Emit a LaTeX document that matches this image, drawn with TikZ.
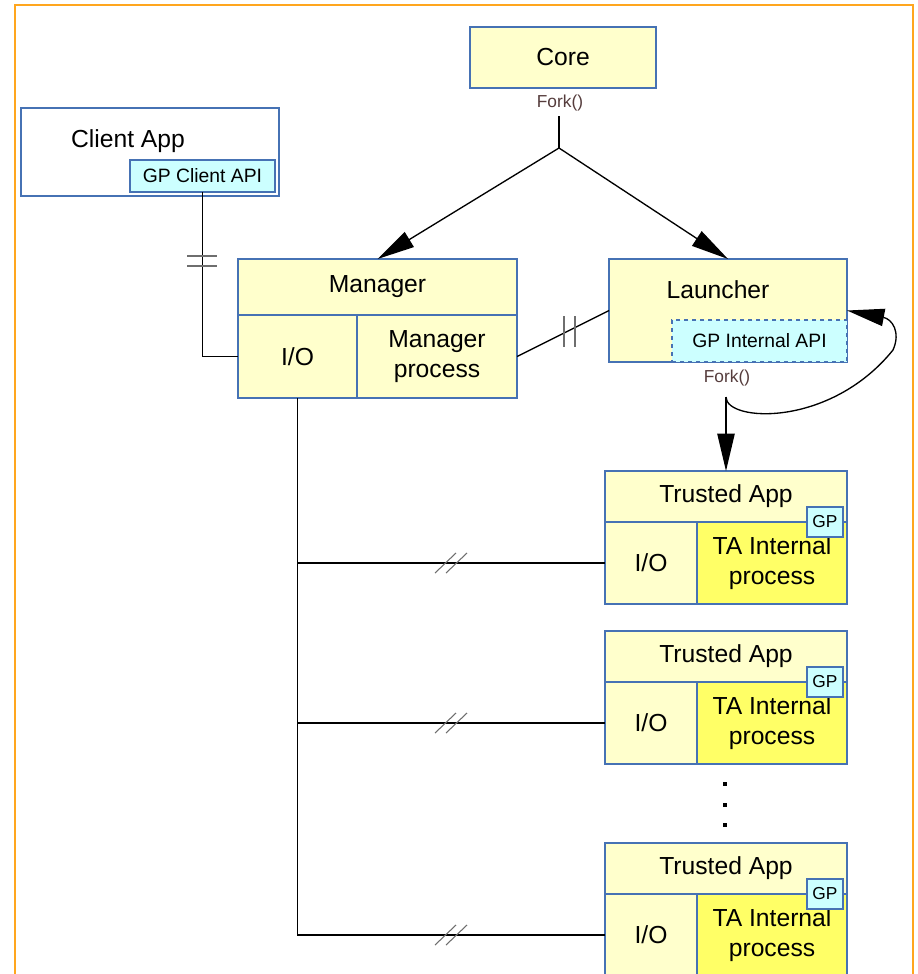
\documentclass[tikz,border=0pt]{standalone}
\usepackage{fontspec}
\setmainfont{Liberation Sans}
\usetikzlibrary{arrows.meta}
\definecolor{bord}{RGB}{70,114,180}
\definecolor{lyel}{RGB}{255,255,204}
\definecolor{yel}{RGB}{255,255,102}
\definecolor{lcyan}{RGB}{204,255,255}
\definecolor{frameor}{RGB}{255,166,30}
\definecolor{forkc}{RGB}{85,60,60}
\definecolor{tickc}{RGB}{110,110,110}
\begin{document}
\begin{tikzpicture}[x=0.75pt,y=-0.75pt,
  wh/.style 2 args={minimum width=#1*0.75pt, minimum height=#2*0.75pt},
  cell/.style={draw=bord, line width=0.9pt, inner sep=0pt, outer sep=0pt, align=center,
    font=\fontsize{18.5}{22}\selectfont},
  ycell/.style={cell, fill=lyel},
  tacell/.style={cell, fill=yel},
  apibox/.style={cell, fill=lcyan, font=\fontsize{14.5}{17}\selectfont},
  gpbox/.style={cell, fill=lcyan, font=\fontsize{13}{15}\selectfont, wh={36}{30}},
  plain/.style={inner sep=0pt, font=\fontsize{18.5}{22}\selectfont},
  forklbl/.style={inner sep=0pt, text=forkc, font=\fontsize{13}{15}\selectfont},
  conn/.style={line width=1pt, black},
  arr/.style={conn, -{Triangle[length=28pt,width=13pt]}},
  tick/.style={line width=0.8pt, tickc},
  dotn/.style={fill=black, inner sep=0pt, minimum size=3.2pt}
]
\useasboundingbox (0,0) rectangle (917,974);
\clip (0,0) rectangle (917,974);
% frame
\draw[frameor, line width=1.9pt] (15,1010) -- (15,5) -- (913,5) -- (913,1010);

% Core
\node[ycell, wh={186}{61}] (core) at (563,57.5) {Core};
\node[forklbl] (fork1) at (560,103) {Fork()};
\coordinate (f1) at (559,116);
\coordinate (split) at (559,148);

% Client App
\node[cell, fill=white, wh={258}{88}, line width=1.1pt] (ca) at (150,152) {};
\node[plain] (catxt) at (128,141) {Client App};
\node[apibox, wh={145}{32}] (gpc) at (202.5,176) {GP Client API};

% Manager
\node[ycell, wh={279}{56}] (mgr) at (377.5,287) {Manager};
\node[ycell, wh={119}{83}] (mgrio) at (297.5,356.5) {I/O};
\node[ycell, wh={160}{83}] (mgrproc) at (437,356.5) {Manager\\process};

% Launcher
\node[ycell, wh={238}{103}] (lau) at (728,310.5) {};
\node[plain] (lautxt) at (718,290) {Launcher};
\node[apibox, dashed, wh={175}{42}] (gpi) at (759.5,341) {GP Internal API};
\node[forklbl] (fork2) at (727,378) {Fork()};
\coordinate (f2) at (726,397);

% Trusted Apps
\foreach \i/\dy in {1/0,2/160,3/372}{
  \node[ycell, wh={242}{51}] (ta\i) at (726,496.5+\dy) {Trusted App};
  \node[ycell, wh={92}{82}] (ta\i io) at (651,563+\dy) {I/O};
  \node[tacell, wh={150}{82}] (ta\i int) at (772,563+\dy) {TA Internal\\process};
  \node[gpbox] (ta\i gp) at (825,522+\dy) {GP};
}

% dots
\node[dotn] (d1) at (725,784) {};
\node[dotn] (d2) at (725,805) {};
\node[dotn] (d3) at (725,825) {};

% Core fork connectors
\draw[conn] (f1) -- (split);
\draw[arr] (split) -- (mgr.north);
\draw[arr] (split) -- (lau.north);

% Client API to Manager I/O
\draw[conn] (gpc.south) |- (mgrio.west);
\draw[tick] (187,256) -- (217,256);
\draw[tick] (187,266) -- (217,266);

% Manager process to Launcher
\draw[conn] (mgrproc.east) -- (lau.west);
\draw[tick] (564,316) -- (564,347);
\draw[tick] (575,316) -- (575,347);

% Launcher fork
\draw[arr] (f2) -- (ta1.north);
\draw[arr] (f2) .. controls (726,422) and (830,428) .. (893,350)
  .. controls (901,332) and (892,319) .. (lau.east);

% Manager I/O bus
\draw[conn] (mgrio.south) -- (mgrio.south |- ta3io.west) -- (ta3io.west);
\draw[conn] (mgrio.south |- ta1io.west) -- (ta1io.west);
\draw[conn] (mgrio.south |- ta2io.west) -- (ta2io.west);
\foreach \yy in {563,723,935}{
  \draw[tick] (435,\yy+10) -- (456,\yy-10);
  \draw[tick] (446,\yy+10) -- (467,\yy-10);
}
\end{tikzpicture}
\end{document}
